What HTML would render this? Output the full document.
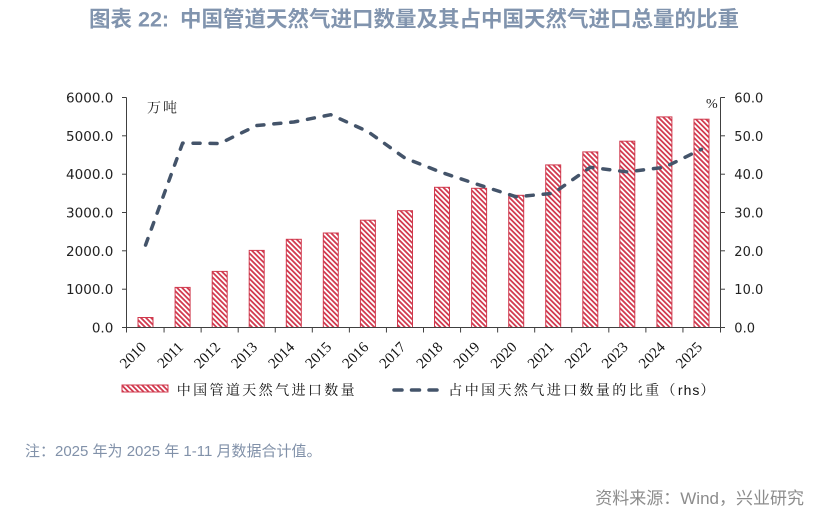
<!DOCTYPE html>
<html>
<head>
<meta charset="utf-8">
<style>
  html,body{margin:0;padding:0;background:#fff;}
  body{width:828px;height:509px;overflow:hidden;}
  svg{display:block;}
</style>
</head>
<body>
<svg width="828" height="509" viewBox="0 0 828 509" xmlns="http://www.w3.org/2000/svg">
  <defs>
    <pattern id="hatch" patternUnits="userSpaceOnUse" width="3.6" height="3.6" patternTransform="rotate(-45)">
      <rect x="0" y="0" width="3.6" height="3.6" fill="#ffffff"/>
      <rect x="0" y="0" width="1.8" height="3.6" fill="#d23b50"/>
    </pattern>
  </defs>
  <rect x="0" y="0" width="828" height="509" fill="#ffffff"/>

  <!-- Title -->
  <text x="89" y="26.5" font-family="'Liberation Sans','Noto Sans CJK SC',sans-serif" font-weight="bold" font-size="21.5" fill="#8194ae">图表</text>
  <text x="138" y="26.5" font-family="'Liberation Sans','Noto Sans CJK SC',sans-serif" font-weight="bold" font-size="21.5" fill="#8194ae">22:</text>
  <text x="180" y="26.5" font-family="'Liberation Sans','Noto Sans CJK SC',sans-serif" font-weight="bold" font-size="21.5" fill="#8194ae">中国管道天然气进口数量及其占中国天然气进口总量的比重</text>

  <!-- Bars -->
  <g fill="url(#hatch)" stroke="#d03a4e" stroke-width="1">
    <rect x="138.0" y="317.5" width="15" height="10"/>
    <rect x="175.1" y="287.4" width="15" height="40.1"/>
    <rect x="212.2" y="271.4" width="15" height="56.1"/>
    <rect x="249.2" y="250.4" width="15" height="77.1"/>
    <rect x="286.3" y="239.3" width="15" height="88.2"/>
    <rect x="323.3" y="233.0" width="15" height="94.5"/>
    <rect x="360.4" y="220.2" width="15" height="107.3"/>
    <rect x="397.5" y="210.7" width="15" height="116.8"/>
    <rect x="434.5" y="187.3" width="15" height="140.2"/>
    <rect x="471.6" y="188.3" width="15" height="139.2"/>
    <rect x="508.7" y="195.3" width="15" height="132.2"/>
    <rect x="545.7" y="164.9" width="15" height="162.6"/>
    <rect x="582.8" y="151.9" width="15" height="175.6"/>
    <rect x="619.8" y="141.2" width="15" height="186.3"/>
    <rect x="656.9" y="116.9" width="15" height="210.6"/>
    <rect x="694.0" y="119.2" width="15" height="208.3"/>
  </g>

  <!-- Line (rhs) -->
  <polyline fill="none" stroke="#44546a" stroke-width="3.5" stroke-linecap="round" stroke-linejoin="round" stroke-dasharray="7 10"
    points="145.53,245.1 182.59,143.1 219.66,143.5 256.72,125.5 293.78,122.0 330.84,114.7 367.91,131.6 404.97,158.1 442.03,172.6 479.09,184.9 516.16,196.8 553.22,193.3 590.28,167.3 627.34,171.9 664.41,167.3 701.47,149.3"/>

  <!-- Axes -->
  <g stroke="#404040" stroke-width="1" fill="none">
    <line x1="126.5" y1="97.5" x2="126.5" y2="327.5"/>
    <line x1="720.5" y1="97.5" x2="720.5" y2="327.5"/>
    <line x1="126.5" y1="327.5" x2="720.5" y2="327.5"/>
    <line x1="122" y1="97.5" x2="126.5" y2="97.5"/>
    <line x1="122" y1="135.8" x2="126.5" y2="135.8"/>
    <line x1="122" y1="174.2" x2="126.5" y2="174.2"/>
    <line x1="122" y1="212.5" x2="126.5" y2="212.5"/>
    <line x1="122" y1="250.8" x2="126.5" y2="250.8"/>
    <line x1="122" y1="289.2" x2="126.5" y2="289.2"/>
    <line x1="122" y1="327.5" x2="126.5" y2="327.5"/>
    <line x1="720.5" y1="97.5" x2="725" y2="97.5"/>
    <line x1="720.5" y1="135.8" x2="725" y2="135.8"/>
    <line x1="720.5" y1="174.2" x2="725" y2="174.2"/>
    <line x1="720.5" y1="212.5" x2="725" y2="212.5"/>
    <line x1="720.5" y1="250.8" x2="725" y2="250.8"/>
    <line x1="720.5" y1="289.2" x2="725" y2="289.2"/>
    <line x1="720.5" y1="327.5" x2="725" y2="327.5"/>
    <line x1="126.5" y1="327.5" x2="126.5" y2="332.5"/>
    <line x1="164.06" y1="327.5" x2="164.06" y2="332.5"/>
    <line x1="201.13" y1="327.5" x2="201.13" y2="332.5"/>
    <line x1="238.19" y1="327.5" x2="238.19" y2="332.5"/>
    <line x1="275.25" y1="327.5" x2="275.25" y2="332.5"/>
    <line x1="312.31" y1="327.5" x2="312.31" y2="332.5"/>
    <line x1="349.38" y1="327.5" x2="349.38" y2="332.5"/>
    <line x1="386.44" y1="327.5" x2="386.44" y2="332.5"/>
    <line x1="423.5" y1="327.5" x2="423.5" y2="332.5"/>
    <line x1="460.56" y1="327.5" x2="460.56" y2="332.5"/>
    <line x1="497.63" y1="327.5" x2="497.63" y2="332.5"/>
    <line x1="534.69" y1="327.5" x2="534.69" y2="332.5"/>
    <line x1="571.75" y1="327.5" x2="571.75" y2="332.5"/>
    <line x1="608.81" y1="327.5" x2="608.81" y2="332.5"/>
    <line x1="645.88" y1="327.5" x2="645.88" y2="332.5"/>
    <line x1="682.94" y1="327.5" x2="682.94" y2="332.5"/>
    <line x1="720.5" y1="327.5" x2="720.5" y2="332.5"/>
  </g>

  <!-- Left axis labels -->
  <g font-family="'DejaVu Sans',sans-serif" font-size="13.5" fill="#222" text-anchor="end">
    <text x="113.3" y="102.5">6000.0</text>
    <text x="113.3" y="140.8">5000.0</text>
    <text x="113.3" y="179.2">4000.0</text>
    <text x="113.3" y="217.5">3000.0</text>
    <text x="113.3" y="255.8">2000.0</text>
    <text x="113.3" y="294.2">1000.0</text>
    <text x="113.3" y="332.5">0.0</text>
  </g>

  <!-- Right axis labels -->
  <g font-family="'DejaVu Sans',sans-serif" font-size="13" fill="#222" text-anchor="start">
    <text x="734.3" y="102.5">60.0</text>
    <text x="734.3" y="140.8">50.0</text>
    <text x="734.3" y="179.2">40.0</text>
    <text x="734.3" y="217.5">30.0</text>
    <text x="734.3" y="255.8">20.0</text>
    <text x="734.3" y="294.2">10.0</text>
    <text x="734.3" y="332.5">0.0</text>
  </g>

  <!-- Unit labels -->
  <text x="147" y="112.5" font-family="'Liberation Serif','Noto Serif CJK SC',serif" font-size="14" letter-spacing="2" fill="#222">万吨</text>
  <text x="706" y="108" font-family="'Liberation Serif',serif" font-size="14" fill="#222">%</text>

  <!-- Year labels -->
  <g font-family="'Liberation Serif',serif" font-size="15" fill="#111" text-anchor="end">
    <text transform="translate(147,348) rotate(-45)">2010</text>
    <text transform="translate(184.1,348) rotate(-45)">2011</text>
    <text transform="translate(221.2,348) rotate(-45)">2012</text>
    <text transform="translate(258.2,348) rotate(-45)">2013</text>
    <text transform="translate(295.3,348) rotate(-45)">2014</text>
    <text transform="translate(332.3,348) rotate(-45)">2015</text>
    <text transform="translate(369.4,348) rotate(-45)">2016</text>
    <text transform="translate(406.5,348) rotate(-45)">2017</text>
    <text transform="translate(443.5,348) rotate(-45)">2018</text>
    <text transform="translate(480.6,348) rotate(-45)">2019</text>
    <text transform="translate(517.7,348) rotate(-45)">2020</text>
    <text transform="translate(554.7,348) rotate(-45)">2021</text>
    <text transform="translate(591.8,348) rotate(-45)">2022</text>
    <text transform="translate(628.8,348) rotate(-45)">2023</text>
    <text transform="translate(665.9,348) rotate(-45)">2024</text>
    <text transform="translate(703,348) rotate(-45)">2025</text>
  </g>

  <!-- Legend -->
  <rect x="122" y="385" width="46" height="7" fill="url(#hatch)" stroke="#d03a4e" stroke-width="1"/>
  <text x="176.7" y="395" font-family="'Liberation Serif','Noto Serif CJK SC',serif" font-size="14" letter-spacing="2.4" fill="#111">中国管道天然气进口数量</text>
  <line x1="394" y1="390" x2="443" y2="390" stroke="#44546a" stroke-width="3.5" stroke-linecap="round" stroke-dasharray="8 9.5"/>
  <text x="448.3" y="395" font-family="'Liberation Serif','Noto Serif CJK SC',serif" font-size="14" letter-spacing="2.4" fill="#111">占中国天然气进口数量的比重（<tspan font-family="'Liberation Sans',sans-serif" letter-spacing="1">rhs</tspan>）</text>

  <!-- Footnotes -->
  <text x="25" y="456" font-family="'Liberation Sans','Noto Sans CJK SC',sans-serif" font-size="15" fill="#8191a9">注：2025 年为 2025 年 1-11 月数据合计值。</text>
  <text x="804" y="504" text-anchor="end" font-family="'Liberation Sans','Noto Sans CJK SC',sans-serif" font-size="17" fill="#8c8c8c">资料来源：Wind，兴业研究</text>
</svg>
</body>
</html>
